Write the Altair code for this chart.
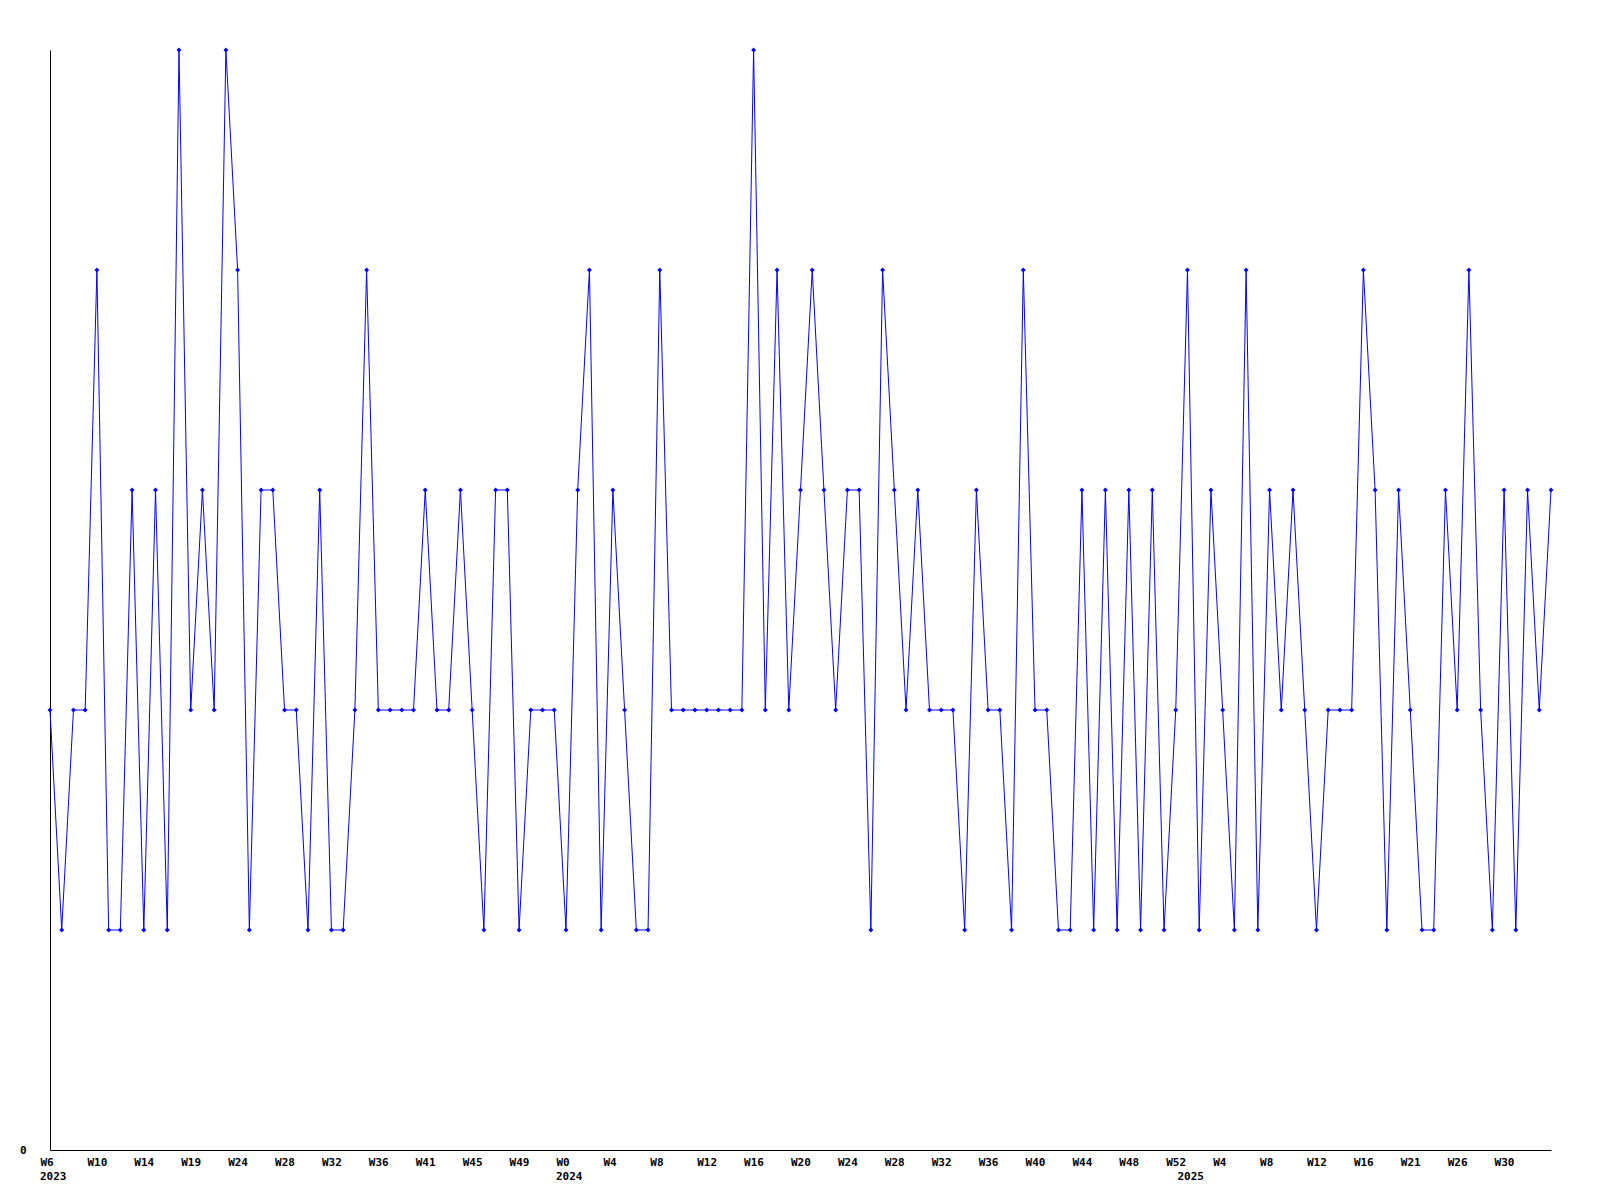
import altair as alt
import pandas as pd

# weekly values (one per week, 2023 W6 .. 2025 ~W34)
values = (
    [2, 1, 2, 2, 4, 1, 1, 3, 1, 3, 1, 5, 2, 3, 2, 5, 4, 1, 3, 3, 2, 2, 1]
    + [3, 1, 1, 2, 4, 2, 2, 2, 2, 3, 2, 2, 3, 2, 1, 3, 3, 1, 2, 2, 2, 1]
    + [3, 4, 1, 3, 2, 1, 1, 4, 2, 2, 2, 2, 2, 2, 2, 5, 2, 4, 2, 3, 4, 3]
    + [2, 3, 3, 1, 4, 3, 2, 3, 2, 2, 2, 1, 3, 2, 2, 1, 4, 2, 2, 1, 1, 3]
    + [1, 3, 1, 3, 1, 3, 1, 2, 4, 1, 3, 2, 1, 4, 1, 3, 2, 3, 2, 1, 2, 2, 2]
    + [4, 3, 1, 3, 2, 1, 1, 3, 2, 4, 2, 1, 3, 1, 3, 2, 3]
)
week_index = list(range(len(values)))

# x-axis week labels (every 4th week)
tick_index = list(range(0, 125, 4))
tick_labels = ["W6", "W10", "W14", "W19", "W24", "W28", "W32", "W36", "W41",
               "W45", "W49", "W0", "W4", "W8", "W12", "W16", "W20", "W24",
               "W28", "W32", "W36", "W40", "W44", "W48", "W52", "W4", "W8",
               "W12", "W16", "W21", "W26", "W30"]

# year labels under the week labels
year_labels = ["2023", "2024", "2025"]
year_index = [0, 44, 97]

df = pd.DataFrame({"week": week_index, "value": values})
years = pd.DataFrame({"week": year_index, "year": year_labels})

label_array = "[" + ",".join("'" + t + "'" for t in tick_labels) + "]"
FONT = "DejaVu Sans Mono"

x_scale = alt.Scale(domain=[0, len(values) - 1], nice=False, zero=False)
y_scale = alt.Scale(domain=[0, 5], nice=False)

x_axis = alt.Axis(
    values=tick_index,
    labelExpr=label_array + "[datum.value / 4]",
    title=None, grid=False, ticks=False, tickSize=0,
    labelFlush=False, labelOverlap=False, labelPadding=6,
    labelAlign="left", labelOffset=-10,
    labelFont=FONT, labelFontWeight="bold", labelFontSize=11,
    labelColor="black", domainColor="black", domainWidth=1,
)
y_axis = alt.Axis(
    values=[0], title=None, grid=False, ticks=False, tickSize=0,
    labelPadding=24, labelFont=FONT, labelFontWeight="bold",
    labelFontSize=11, labelColor="black", domainColor="black", domainWidth=1,
)

base = alt.Chart(df).encode(
    x=alt.X("week:Q", scale=x_scale, axis=x_axis),
    y=alt.Y("value:Q", scale=y_scale, axis=y_axis),
)

line = base.mark_line(color="#0000ff", strokeWidth=1)
points = base.mark_point(shape="diamond", filled=True, size=24,
                         color="#0000ff", opacity=1)

year_text = alt.Chart(years).mark_text(
    font=FONT, fontWeight="bold", fontSize=11, color="black",
    align="left", baseline="top", dx=-10,
).encode(
    x=alt.X("week:Q", scale=x_scale),
    y=alt.value(1121),
    text="year:N",
)

chart = alt.layer(line, points, year_text).properties(
    width=1501,
    height=1100,
    autosize=alt.AutoSizeParams(type="none"),
    padding={"left": 42, "top": 42, "right": 40, "bottom": 40},
    background="white",
).configure_view(stroke=None)

chart.save("out.html", embed_options={"renderer": "svg", "actions": False})
